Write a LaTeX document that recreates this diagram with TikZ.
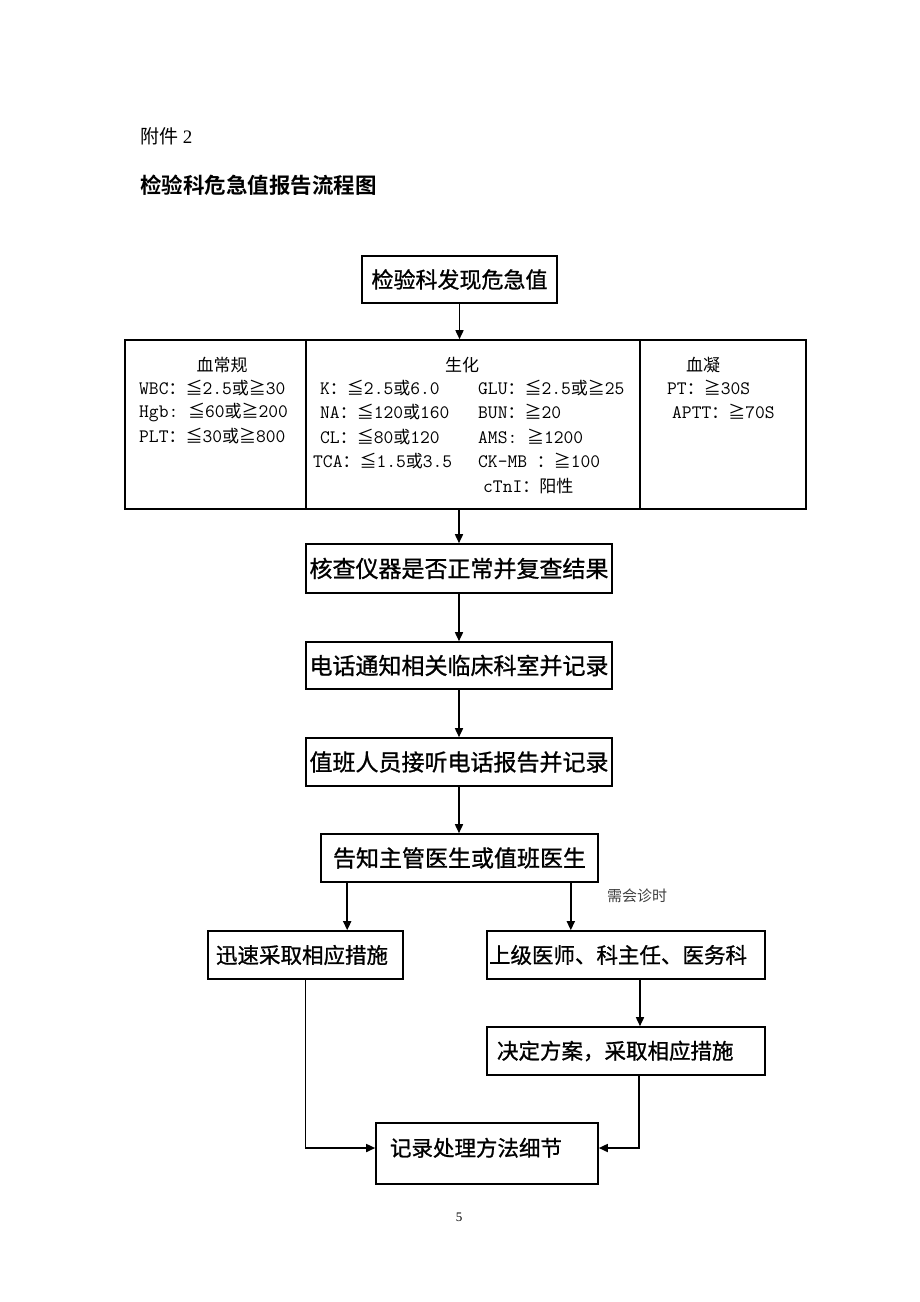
\documentclass[tikz,border=0pt]{standalone}
\usepackage{fontspec}
\setmainfont{Liberation Serif}
\setmonofont{Latin Modern Mono}
\newfontfamily\cjk[BoldFont={Noto Sans CJK SC Bold}]{Noto Sans CJK SC}
\newfontfamily\cjkh[FakeBold=1]{Noto Sans CJK SC}
\usetikzlibrary{arrows.meta}
\newcommand\zh[1]{{\cjk #1}}
\newcommand\zs[1]{{\fontsize{17}{20}\selectfont\cjk #1}}
\begin{document}
\begin{tikzpicture}[x=1pt,y=-1pt,
  box/.style={draw, line width=1.6pt, inner sep=0pt},
  fa/.style={font=\fontsize{22}{26}\selectfont\cjkh},
  fb/.style={font=\fontsize{23}{27}\selectfont\cjkh},
  fc/.style={font=\fontsize{21.5}{25}\selectfont\cjkh},
  arr/.style={line width=1.6pt, -{Triangle[length=9pt,width=8pt]}},
  pt/.style={anchor=west, inner sep=0pt, font=\fontsize{19}{22}\selectfont\ttfamily},
  panel/.style={draw, line width=1.6pt, inner sep=0pt, minimum height=169pt}]
\useasboundingbox[fill=white] (0,0) rectangle (920,1302);

% header
\node[anchor=west, inner sep=0pt, font=\fontsize{19}{22}\selectfont] (att) at (140,136) {\zh{附件} 2};
\node[anchor=west, inner sep=0pt, font=\fontsize{21.5}{25}\selectfont\cjk\bfseries] (title) at (140,185) {检验科危急值报告流程图};

% top box
\node[box, fa, minimum width=195pt, minimum height=47pt] (top) at (459.5,279.5) {检验科发现危急值};

% panels
\node[panel, minimum width=181pt] (p1) at (215.5,424.5) {};
\node[panel, minimum width=334pt] (p2) at (473,424.5) {};
\node[panel, minimum width=166pt] (p3) at (723,424.5) {};

% panel 1
\node[pt, anchor=center] (t1) at (222,365) {\zs{血常规}};
\node[pt] (a1) at (139,388) {WBC\zs{：≦}2.5\zs{或≧}30};
\node[pt] (a2) at (139,412) {Hgb: \zs{≦}60\zs{或≧}200};
\node[pt] (a3) at (139,436) {PLT\zs{：≦}30\zs{或≧}800};

% panel 2
\node[pt, anchor=center] (t2) at (462,365) {\zs{生化}};
\node[pt] (b1) at (320,388) {K\zs{：≦}2.5\zs{或}6.0};
\node[pt] (b2) at (320,412) {NA\zs{：≦}120\zs{或}160};
\node[pt] (b3) at (320,437) {CL\zs{：≦}80\zs{或}120};
\node[pt] (b4) at (313,461) {TCA\zs{：≦}1.5\zs{或}3.5};
\node[pt] (c1) at (478,388) {GLU\zs{：≦}2.5\zs{或≧}25};
\node[pt] (c2) at (478,412) {BUN\zs{：≧}20};
\node[pt] (c3) at (478,437) {AMS: \zs{≧}1200};
\node[pt] (c4) at (478,461) {CK-MB \zs{：≧}100};
\node[pt] (c5) at (483,486) {cTnI\zs{：阳性}};

% panel 3
\node[pt, anchor=center] (t3) at (703,365) {\zs{血凝}};
\node[pt] (d1) at (667,388) {PT\zs{：≧}30S};
\node[pt] (d2) at (672,412) {APTT\zs{：≧}70S};

% main chain
\node[box, fb, minimum width=306pt, minimum height=49pt] (check) at (459,568.5) {核查仪器是否正常并复查结果};
\node[box, fb, minimum width=306pt, minimum height=47pt] (phone) at (459,665.5) {电话通知相关临床科室并记录};
\node[box, fb, minimum width=306pt, minimum height=48pt] (duty) at (459,762) {值班人员接听电话报告并记录};
\node[box, fb, minimum width=277pt, minimum height=48pt] (tell) at (459.5,858) {告知主管医生或值班医生};

\node[box, fc, minimum height=48pt, text width=179pt, inner xsep=8pt, align=left] (rapid) at (305.5,955) {迅速采取相应措施};
\node[box, fc, minimum height=48pt, text width=274pt, inner xsep=2pt, align=left] (upper) at (626,955) {上级医师、科主任、医务科};
\node[box, fc, minimum height=48pt, text width=258pt, inner xsep=10pt, align=left] (decide) at (626,1051) {决定方案，采取相应措施};
\node[box, fc, minimum height=61pt, text width=194pt, inner xsep=14pt, align=left, text height=16pt, text depth=11pt] (record) at (487,1153.5) {记录处理方法细节};

\node[inner sep=0pt, font=\fontsize{15}{18}\selectfont\cjk, text=black!75] (need) at (637,896) {需会诊时};

\node[inner sep=0pt, font=\fontsize{13}{15}\selectfont] (pg) at (459,1217) {5};

% connectors
\draw[arr] (top.south) -- (top.south |- p2.north);
\draw[arr] (check.north |- p2.south) -- (check.north);
\draw[arr] (check.south) -- (phone.north);
\draw[arr] (phone.south) -- (duty.north);
\draw[arr] (duty.south) -- (duty.south |- tell.north);
\coordinate (tl) at ([xshift=27pt]tell.south west);
\coordinate (tr) at ([xshift=-28pt]tell.south east);
\draw[arr] (tl) -- (tl |- rapid.north);
\draw[arr] (tr) -- (tr |- upper.north);
\coordinate (ud) at ([xshift=14pt]upper.south);
\draw[arr] (ud) -- (ud |- decide.north);
\coordinate (dd) at ([xshift=13pt]decide.south);
\draw[arr] (dd) |- ([yshift=5.5pt]record.east);
\draw[arr] (rapid.south) |- ([yshift=5.5pt]record.west);
\end{tikzpicture}
\end{document}
